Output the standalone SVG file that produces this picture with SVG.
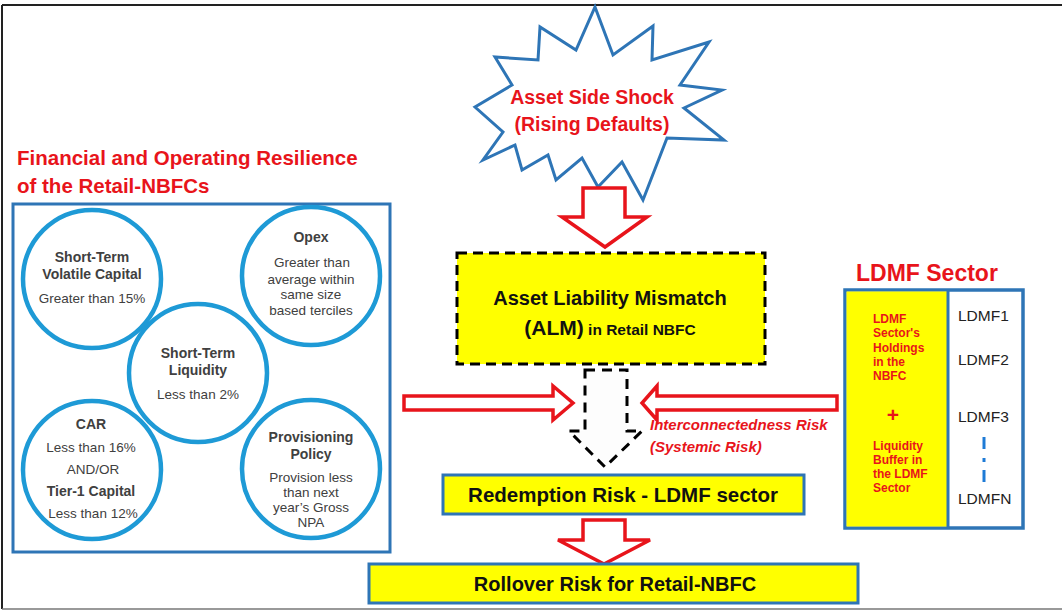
<svg xmlns="http://www.w3.org/2000/svg" width="1062" height="612" viewBox="0 0 1062 612">
<defs>
<style>
.t{font-family:"Liberation Sans",Arial,sans-serif}
.red{fill:#E8141B}
.b{font-weight:bold}
.cir{fill:#fff;stroke:#1E9AD6;stroke-width:4.5}
.ct{font-family:"Liberation Sans",Arial,sans-serif;fill:#404040;text-anchor:middle}
.ctb{font-weight:bold;font-size:14px}
.ctr{font-size:13.5px}
.ybox{fill:#FFFF00;stroke:#2E75B6;stroke-width:3}
.rarrow{fill:#fff;stroke:#E8141B;stroke-width:3.5;stroke-linejoin:miter}
.lt{font-family:"Liberation Sans",Arial,sans-serif;font-weight:bold;font-size:12px;fill:#E8141B}
.rt{font-family:"Liberation Sans",Arial,sans-serif;font-size:15.5px;fill:#222}
</style>
</defs>
<rect width="1062" height="612" fill="#fff"/>
<g id="frame">
<line x1="2" y1="5" x2="1062" y2="5" stroke="#222" stroke-width="2"/>
<line x1="2" y1="5" x2="2" y2="609" stroke="#222" stroke-width="2"/>
<line x1="2" y1="609" x2="1062" y2="609" stroke="#777" stroke-width="1.5"/>
</g>
<g id="shock">
<polygon points="595,7 613,55 653,26 652,60 709,42 680,85 722,90 684,108 724,140 667,138 643,200 622,162 598,187 582,158 556,180 548,155 522,170 515,145 483,160 503,132 475,107 512,85 495,57 538,60 540,27 576,50" fill="#fff" stroke="#2E75B6" stroke-width="3" stroke-linejoin="miter"/>
<text class="t red" x="592" y="104" font-size="19.5" font-weight="bold" text-anchor="middle">Asset Side Shock</text>
<text class="t red" x="592" y="131" font-size="19.5" font-weight="bold" text-anchor="middle">(Rising Defaults)</text>
</g>
<g id="resilience">
<text class="t red b" x="17" y="165" font-size="20.5">Financial and Operating Resilience</text>
<text class="t red b" x="17" y="193" font-size="20.5">of the Retail-NBFCs</text>
<rect x="13" y="204" width="377" height="348" fill="#fff" stroke="#2E75B6" stroke-width="3"/>
<g id="c-stvc">
<circle class="cir" cx="92" cy="279" r="69"/>
<text class="ct ctb" x="92" y="262">Short-Term</text>
<text class="ct ctb" x="92" y="279">Volatile Capital</text>
<text class="ct ctr" x="92" y="303">Greater than 15%</text>
</g>
<g id="c-opex">
<circle class="cir" cx="311" cy="276" r="69"/>
<text class="ct ctb" x="311" y="242">Opex</text>
<text class="ct ctr" x="312" y="267">Greater than</text>
<text class="ct ctr" x="311" y="284">average within</text>
<text class="ct ctr" x="311" y="299">same size</text>
<text class="ct ctr" x="311" y="315">based terciles</text>
</g>
<g id="c-stl">
<circle class="cir" cx="198" cy="373" r="69"/>
<text class="ct ctb" x="198" y="358">Short-Term</text>
<text class="ct ctb" x="198" y="375">Liquidity</text>
<text class="ct ctr" x="198" y="399">Less than 2%</text>
</g>
<g id="c-car">
<circle class="cir" cx="92" cy="470" r="69"/>
<text class="ct ctb" x="91" y="429">CAR</text>
<text class="ct ctr" x="91" y="452">Less than 16%</text>
<text class="ct ctr" x="93" y="474">AND/OR</text>
<text class="ct ctb" x="91" y="496">Tier-1 Capital</text>
<text class="ct ctr" x="93" y="518">Less than 12%</text>
</g>
<g id="c-prov">
<circle class="cir" cx="311" cy="469" r="69"/>
<text class="ct ctb" x="311" y="442">Provisioning</text>
<text class="ct ctb" x="311" y="459">Policy</text>
<text class="ct ctr" x="311" y="482">Provision less</text>
<text class="ct ctr" x="311" y="497">than next</text>
<text class="ct ctr" x="311" y="512">year’s Gross</text>
<text class="ct ctr" x="311" y="527">NPA</text>
</g>
</g>
<g id="connectors">
<polygon class="rarrow" points="583,188 625,188 625,217 647,217 605,247 562,217 583,217"/>
<polygon points="585,370 627,370 627,431 642,431 605,467 569,431 585,431" fill="#fdfdfd" stroke="#000" stroke-width="3" stroke-dasharray="10,7" stroke-linejoin="miter"/>
<polygon class="rarrow" points="404,396 553,396 553,386 573,403 553,420 553,410 404,410" stroke-width="4"/>
<polygon class="rarrow" points="837,396 657,396 657,386 642,403 657,420 657,410 837,410" stroke-width="4"/>
<polygon class="rarrow" points="583,520 625,520 625,540 650,540 604,564 558,540 583,540"/>
</g>
<g id="alm">
<rect x="457" y="253" width="308" height="111" fill="#FFFF00" stroke="#000" stroke-width="3" stroke-dasharray="10,6"/>
<text class="t b" x="610" y="305" font-size="20" text-anchor="middle" fill="#111">Asset Liability Mismatch</text>
<text class="t b" x="610" y="335" text-anchor="middle" fill="#111"><tspan font-size="21">(ALM)</tspan><tspan font-size="15.5"> in Retail NBFC</tspan></text>
</g>
<g id="interconnect">
<text class="t red b" x="650" y="430" font-size="15" font-style="italic">Interconnectedness Risk</text>
<text class="t red b" x="650" y="452" font-size="15" font-style="italic">(Systemic Risk)</text>
</g>
<g id="redemption">
<rect class="ybox" x="443" y="475" width="361" height="39"/>
<text class="t b" x="623" y="502" font-size="20.5" text-anchor="middle" fill="#111">Redemption Risk - LDMF sector</text>
</g>
<g id="rollover">
<rect class="ybox" x="369" y="564" width="489" height="39"/>
<text class="t b" x="615" y="591" font-size="20" text-anchor="middle" fill="#111">Rollover Risk for Retail-NBFC</text>
</g>
<g id="ldmf">
<text class="t red b" x="856" y="281" font-size="23">LDMF Sector</text>
<rect x="845" y="290" width="178" height="238" fill="#fff" stroke="#2E75B6" stroke-width="3.5"/>
<rect x="846.5" y="291.5" width="101.5" height="235" fill="#FFFF00"/>
<line x1="948" y1="290" x2="948" y2="528" stroke="#2E75B6" stroke-width="3"/>
<text class="lt" x="873" y="323">LDMF</text>
<text class="lt" x="873" y="337">Sector's</text>
<text class="lt" x="873" y="352">Holdings</text>
<text class="lt" x="873" y="366">in the</text>
<text class="lt" x="873" y="380">NBFC</text>
<text class="lt" x="893" y="422" text-anchor="middle" style="font-size:21px">+</text>
<text class="lt" x="873" y="450">Liquidity</text>
<text class="lt" x="873" y="464">Buffer in</text>
<text class="lt" x="873" y="478">the LDMF</text>
<text class="lt" x="873" y="492">Sector</text>
<text class="rt" x="958" y="321">LDMF1</text>
<text class="rt" x="958" y="365">LDMF2</text>
<text class="rt" x="958" y="422">LDMF3</text>
<line x1="984" y1="437" x2="984" y2="449" stroke="#1E7BD6" stroke-width="3"/>
<line x1="984" y1="458" x2="984" y2="462" stroke="#1E7BD6" stroke-width="3"/>
<line x1="984" y1="470" x2="984" y2="482" stroke="#1E7BD6" stroke-width="3"/>
<text class="rt" x="958" y="504">LDMFN</text>
</g>
</svg>
